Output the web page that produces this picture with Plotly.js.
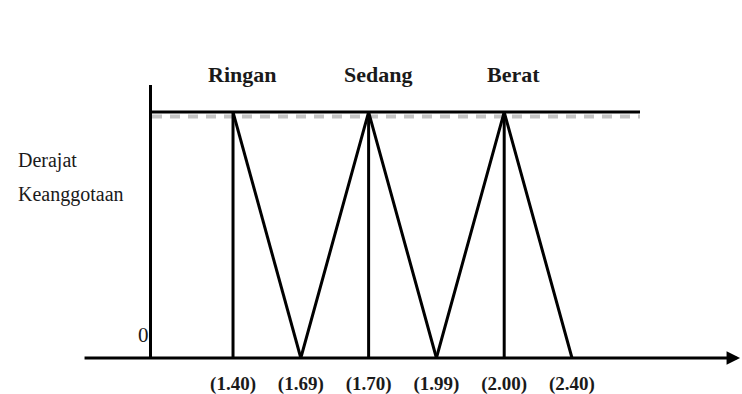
<!DOCTYPE html>
<html>
<head>
<meta charset="utf-8">
<script src="https://cdn.plot.ly/plotly-3.0.1.min.js"></script>
<style>
  html, body { margin: 0; padding: 0; background: #fff; }
  #chart { width: 742px; height: 394px; }
</style>
</head>
<body>
<div id="chart"></div>
<script>
// Break points of the body-weight fuzzy sets (schematic, evenly spaced axis)
const categories = ['1.40', '1.69', '1.70', '1.99', '2.00', '2.40'];
const tickLabels = ['(1.40)', '(1.69)', '(1.70)', '(1.99)', '(2.00)', '(2.40)'];

// Membership functions: Ringan, Sedang, Berat
const setNames = ['Ringan', 'Sedang', 'Berat'];
const ringanX = ['1.40', '1.69'];
const ringanY = [1, 0];
const sedangX = ['1.69', '1.70', '1.99'];
const sedangY = [0, 1, 0];
const beratX = ['1.99', '2.00', '2.40'];
const beratY = [0, 1, 0];

// Peak of each set, dropped to the axis with a vertical line
const peakX = ['1.40', '1.70', '2.00'];
const peakY = [1, 1, 1];

const yAxisLabel = ['Derajat', 'Keanggotaan'];
const originLabel = '0';

const serif = '"Liberation Serif", "Times New Roman", serif';
const lineStyle = { color: '#000', width: 3 };

// vertical drop lines built from the peak arrays
const dropX = [], dropY = [];
peakX.forEach((x, i) => { dropX.push(x, x, null); dropY.push(0, peakY[i], null); });

const traces = [
  { x: ringanX, y: ringanY, name: setNames[0] },
  { x: sedangX, y: sedangY, name: setNames[1] },
  { x: beratX, y: beratY, name: setNames[2] },
  { x: dropX, y: dropY, name: 'peak' }
].map(t => Object.assign(t, {
  type: 'scatter', mode: 'lines', line: lineStyle,
  hoverinfo: 'skip', showlegend: false, cliponaxis: false
}));

const annotations = [];
// set names above the peaks (category annotations take the category index)
setNames.forEach((name, i) => {
  annotations.push({
    text: name, x: categories.indexOf(peakX[i]), xref: 'x', y: 1.037, yref: 'paper',
    xanchor: 'center', yanchor: 'middle', xshift: 9, showarrow: false,
    font: { family: serif, size: 22, color: '#1a1a1a', weight: 'bold' }
  });
});
// y-axis caption
yAxisLabel.forEach((line, i) => {
  annotations.push({
    text: line, xref: 'paper', x: -0.279, xanchor: 'left',
    yref: 'y', y: [0.805, 0.663][i], yanchor: 'middle', showarrow: false,
    font: { family: serif, size: 20, color: '#1a1a1a' }
  });
});
annotations.push({
  text: originLabel, xref: 'paper', x: -0.018, xanchor: 'center',
  yref: 'y', y: 0.093, yanchor: 'middle', showarrow: false,
  font: { family: serif, size: 21, color: '#1a1a1a' }
});
// horizontal axis with its arrow head
annotations.push({
  text: '', xref: 'paper', x: 1.205, yref: 'y', y: 0,
  ax: -657, ay: 0, showarrow: true, arrowhead: 2, arrowsize: 0.9,
  arrowwidth: 3, arrowcolor: '#000', standoff: 0, startstandoff: 0
});

const layout = {
  width: 742, height: 394,
  margin: { l: 152, r: 102, t: 85, b: 36 },
  paper_bgcolor: '#fff', plot_bgcolor: '#fff',
  showlegend: false,
  xaxis: {
    type: 'category', categoryorder: 'array', categoryarray: categories,
    range: [-1.195, 6.003],
    tickvals: categories, ticktext: tickLabels, ticks: '',
    ticklabelstandoff: 12,
    tickfont: { family: serif, size: 19, color: '#1a1a1a', weight: 'bold' },
    showgrid: false, zeroline: false, showline: false, fixedrange: true
  },
  yaxis: {
    range: [0, 1.11], showticklabels: false, ticks: '',
    showgrid: false, zeroline: false,
    showline: true, linewidth: 3, linecolor: '#000', fixedrange: true
  },
  shapes: [
    // soft grey dashed shadow under the full-membership line
    { type: 'line', xref: 'paper', x0: 0, x1: 1, yref: 'y', y0: 0.982, y1: 0.982,
      line: { color: '#c4c4c4', width: 4, dash: '10px,8px' }, layer: 'below' },
    // full-membership level (degree = 1)
    { type: 'line', xref: 'paper', x0: 0, x1: 1, yref: 'y', y0: 1, y1: 1,
      line: { color: '#000', width: 3 } }
  ],
  annotations: annotations
};

Plotly.newPlot('chart', traces, layout, { staticPlot: true, displayModeBar: false });
</script>
</body>
</html>
